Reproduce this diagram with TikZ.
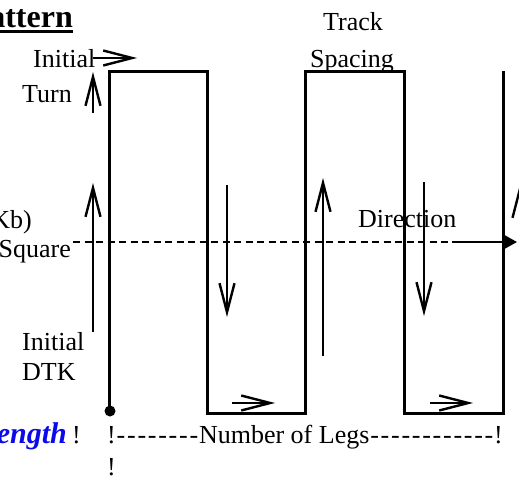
\documentclass[tikz,border=0pt]{standalone}
\usepackage{fontspec}
\setmainfont{Liberation Serif}
\usetikzlibrary{arrows.meta}
\definecolor{lenblue}{RGB}{10,10,235}
\newcommand\legdash{\makebox[10.4pt]{-}}
\begin{document}
\begin{tikzpicture}[x=1pt,y=-1pt,
  lbl/.style={inner sep=0pt, font=\fontsize{26}{30}\selectfont},
  track/.style={line width=3pt, line join=miter},
  hint/.style={line width=2.4pt, -{Straight Barb[length=29pt,width=15pt]}},
  axis/.style={line width=1.8pt, dash pattern=on 7pt off 4.5pt},
  heading/.style={line width=2.4pt, -{Triangle[length=14pt,width=15pt]}},
]
\useasboundingbox (0,0) rectangle (519,482);
\clip (0,0) rectangle (519,482);

% ---- title ----
\node[lbl, font=\fontsize{32}{36}\selectfont\bfseries, anchor=base east] (title) at (73,27) {Pattern};
\draw[line width=3pt] (0,31.5) -- (title.east |- 0,31.5);

% ---- track legs ----
\coordinate (s)  at (109,411);
\coordinate (c1) at (109,71);
\coordinate (c2) at (207,71);
\coordinate (c3) at (207,413);
\coordinate (c4) at (305,413);
\coordinate (c5) at (305,71);
\coordinate (c6) at (404,71);
\coordinate (c7) at (404,413);
\coordinate (c8) at (503,413);
\coordinate (c9) at (503,71);
\draw[track] (s) -- (c1) -- (c2) -- (c3) -- (c4) -- (c5) -- (c6) -- (c7) -- (c8) -- (c9);
\fill (110,411) circle (5.5pt);

% ---- direction axis ----
\coordinate (ax0) at (73,242);
\coordinate (ax1) at (452,242);
\coordinate (ax2) at (517,242);
\draw[axis] (ax0) -- (ax1);
\draw[heading] (ax1) -- (ax2);

% ---- leg direction arrows ----
\coordinate (it0) at (93,58);   \coordinate (it1) at (137,58);
\coordinate (tu0) at (93,113);  \coordinate (tu1) at (93,72);
\coordinate (dk0) at (93,332);  \coordinate (dk1) at (93,183);
\coordinate (l2a) at (227,185); \coordinate (l2b) at (227,317);
\coordinate (l3a) at (323,356); \coordinate (l3b) at (323,178);
\coordinate (l4a) at (424,182); \coordinate (l4b) at (424,316);
\coordinate (l5a) at (520,356); \coordinate (l5b) at (520,184);
\coordinate (b1a) at (232,403); \coordinate (b1b) at (275,403);
\coordinate (b2a) at (430,403); \coordinate (b2b) at (473,403);
\draw[hint] (it0) -- (it1);
\draw[hint] (tu0) -- (tu1);
\draw[hint] (dk0) -- (dk1);
\draw[hint] (l2a) -- (l2b);
\draw[hint] (l3a) -- (l3b);
\draw[hint] (l4a) -- (l4b);
\draw[hint] (l5a) -- (l5b);
\draw[hint] (b1a) -- (b1b);
\draw[hint] (b2a) -- (b2b);

% ---- labels ----
\node[lbl, anchor=base west] (initT) at (33,67) {Initial};
\node[lbl, anchor=base west] (turn) at (22,102) {Turn};
\node[lbl, anchor=base west] (track) at (323,30) {Track};
\node[lbl, anchor=base west] (spacing) at (310,67) {Spacing};
\node[lbl, anchor=base east] (kb) at (32,228) {(Kb)};
\node[lbl, anchor=base east] (square) at (71,257) {Square};
\node[lbl, anchor=base west] (initB) at (22,350) {Initial};
\node[lbl, anchor=base west] (dtk) at (22,380) {DTK};
\node[lbl, anchor=base west] (dir) at (358,227) {Direction};
\node[lbl, font=\fontsize{30}{34}\selectfont\bfseries\itshape, text=lenblue, anchor=base east] (len) at (67,443) {Length};
\node[lbl, anchor=base west] (bang) at (72,443) {!};
\node[lbl, anchor=base west] (legs) at (107,443) {!\legdash\legdash\legdash\legdash\legdash\legdash\legdash\legdash Number of Legs\legdash\legdash\legdash\legdash\legdash\legdash\legdash\legdash\legdash\legdash\legdash\legdash!};
\node[lbl, anchor=base west] (bang2) at (107,475) {!};
\end{tikzpicture}
\end{document}
